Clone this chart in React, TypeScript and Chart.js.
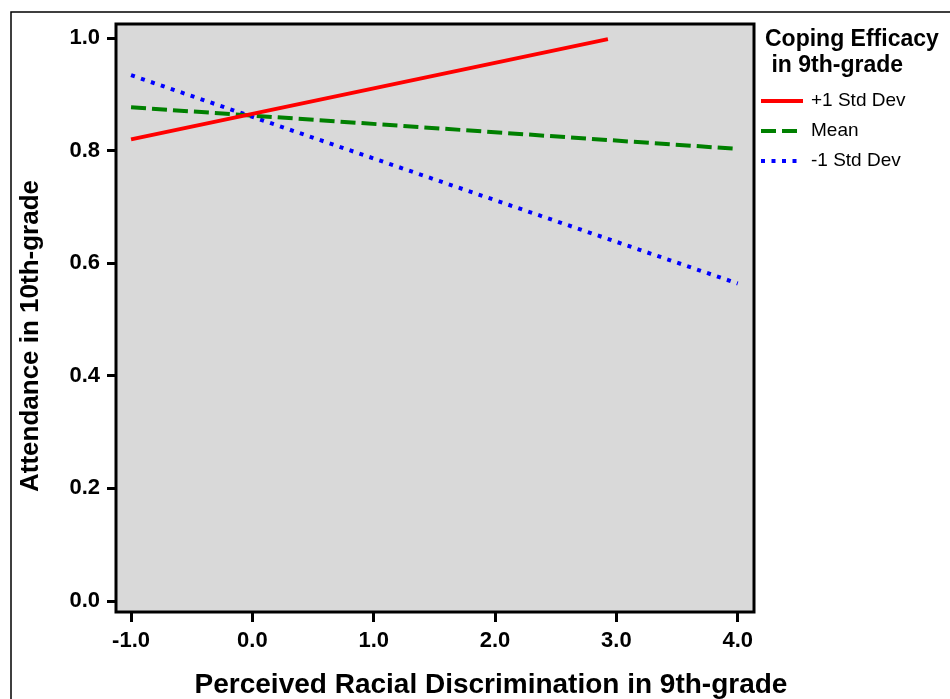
import React, { useEffect, useRef } from "react";
import { Chart, registerables } from "chart.js";

Chart.register(...registerables);

const xTicks = [-1, 0, 1, 2, 3, 4];
const yTicks = [0, 0.2, 0.4, 0.6, 0.8, 1.0];

const seriesNames = ["+1 Std Dev", "Mean", "-1 Std Dev"];
const plusX = [-1, 2.93];
const plusY = [0.82, 0.998];
const meanX = [-1, 4];
const meanY = [0.877, 0.803];
const minusX = [-1, 4];
const minusY = [0.934, 0.564];

const colors = ["#ff0000", "#008000", "#0000ff"];
const dashes = [[], [15, 6], [4, 6.5]];

const legendTitle = ["Coping Efficacy", " in 9th-grade"];
const xTitle = "Perceived Racial Discrimination in 9th-grade";
const yTitle = "Attendance in 10th-grade";

const FONT = "'Liberation Sans', Arial, sans-serif";

const decorPlugin = {
  id: "decor",
  beforeDraw(chart: any) {
    const { ctx, chartArea: a } = chart;
    ctx.save();
    ctx.fillStyle = "#ffffff";
    ctx.fillRect(0, 0, chart.width, chart.height);
    // outer frame
    ctx.strokeStyle = "#000";
    ctx.lineWidth = 1.5;
    ctx.strokeRect(11, 12, chart.width + 20, chart.height + 20);
    ctx.fillStyle = "#d9d9d9";
    ctx.fillRect(a.left, a.top, a.right - a.left, a.bottom - a.top);
    ctx.restore();
  },
  afterDraw(chart: any) {
    const { ctx, chartArea: a } = chart;
    ctx.save();
    ctx.strokeStyle = "#000";
    ctx.lineWidth = 3;
    ctx.strokeRect(a.left, a.top, a.right - a.left, a.bottom - a.top);

    // axis titles
    ctx.fillStyle = "#000";
    ctx.textAlign = "center";
    ctx.textBaseline = "middle";
    ctx.font = `bold 28px ${FONT}`;
    ctx.fillText(xTitle, 491, 685);
    ctx.save();
    ctx.translate(31, 336);
    ctx.rotate(-Math.PI / 2);
    ctx.font = `bold 26px ${FONT}`;
    ctx.fillText(yTitle, 0, 0);
    ctx.restore();

    // legend
    ctx.textAlign = "left";
    ctx.font = `bold 23px ${FONT}`;
    ctx.fillText(legendTitle[0], 765, 40);
    ctx.fillText(legendTitle[1], 765, 66);
    ctx.font = `19px ${FONT}`;
    seriesNames.forEach((name, i) => {
      const y = 101 + i * 30;
      ctx.beginPath();
      ctx.strokeStyle = colors[i];
      ctx.lineWidth = 4;
      ctx.setLineDash(dashes[i]);
      ctx.moveTo(761, y);
      ctx.lineTo(803, y);
      ctx.stroke();
      ctx.setLineDash([]);
      ctx.fillStyle = "#000";
      ctx.fillText(name, 811, y);
    });
    ctx.restore();
  },
};

export default function App() {
  const ref = useRef<HTMLCanvasElement>(null);
  useEffect(() => {
    document.body.style.margin = "0";
    const toPts = (xs: number[], ys: number[]) => xs.map((x, i) => ({ x, y: ys[i] }));
    const chart = new Chart(ref.current!, {
      type: "line",
      data: {
        datasets: [
          { label: seriesNames[0], data: toPts(plusX, plusY) },
          { label: seriesNames[1], data: toPts(meanX, meanY) },
          { label: seriesNames[2], data: toPts(minusX, minusY) },
        ].map((d, i) => ({
          ...d,
          borderColor: colors[i],
          borderWidth: 4,
          borderDash: dashes[i],
          pointRadius: 0,
          fill: false,
          tension: 0,
        })),
      },
      options: {
        responsive: false,
        animation: false,
        devicePixelRatio: 1,
        layout: { padding: { top: 24, right: 196, left: 0, bottom: 0 } },
        plugins: { legend: { display: false }, tooltip: { enabled: false } },
        scales: {
          x: {
            type: "linear",
            min: -1.124,
            max: 4.134,
            border: { display: false },
            grid: { drawOnChartArea: false, tickLength: 10, tickWidth: 3, tickColor: "#000" },
            afterBuildTicks: (s: any) => { s.ticks = xTicks.map((v) => ({ value: v })); },
            afterFit: (s: any) => { s.height = 87; },
            ticks: {
              color: "#000",
              padding: 6,
              maxRotation: 0,
              font: { family: FONT, size: 22, weight: "bold" },
              callback: (v: any) => Number(v).toFixed(1),
            },
          },
          y: {
            type: "linear",
            min: -0.0195,
            max: 1.0249,
            border: { display: false },
            grid: { drawOnChartArea: false, tickLength: 9, tickWidth: 3, tickColor: "#000" },
            afterBuildTicks: (s: any) => { s.ticks = yTicks.map((v) => ({ value: v })); },
            afterFit: (s: any) => { s.width = 116; },
            ticks: {
              color: "#000",
              padding: 7,
              font: { family: FONT, size: 22, weight: "bold" },
              callback: (v: any) => Number(v).toFixed(1),
            },
          },
        },
      },
      plugins: [decorPlugin],
    });
    return () => chart.destroy();
  }, []);
  return <canvas ref={ref} width={950} height={699} style={{ display: "block" }} />;
}
